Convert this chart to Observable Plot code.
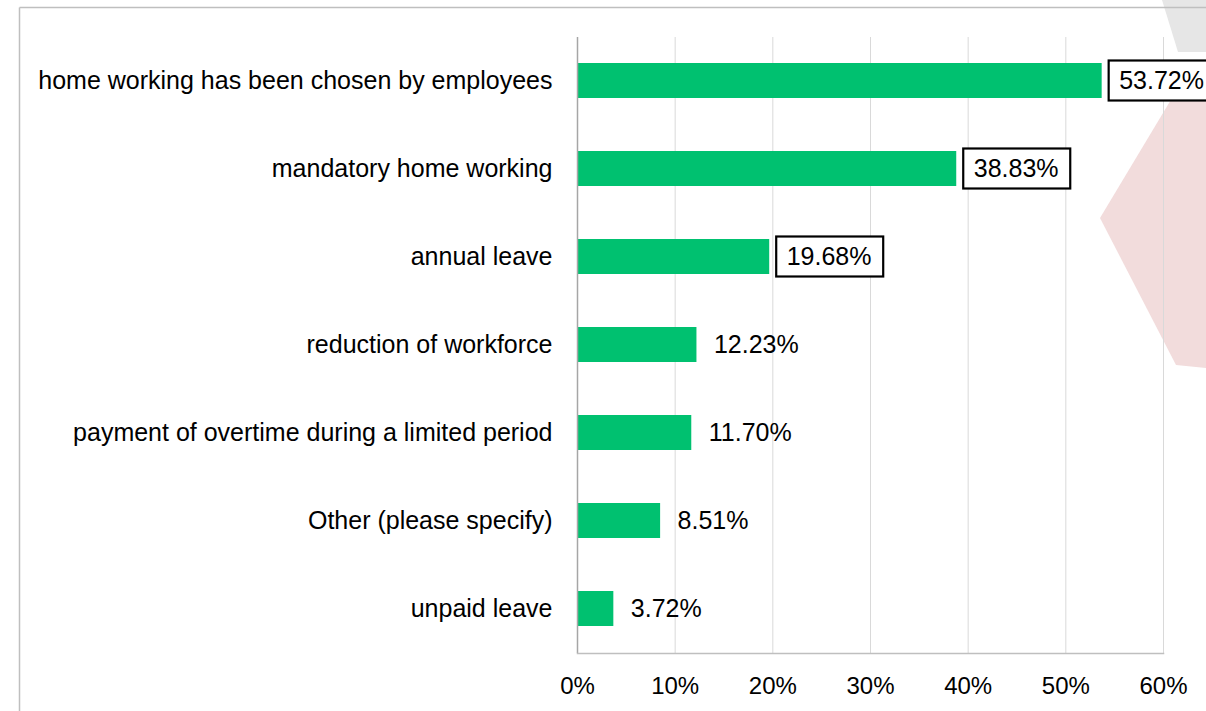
<!DOCTYPE html>
<html>
<head>
<meta charset="utf-8">
<script src="https://cdn.jsdelivr.net/npm/d3@7"></script>
<script src="https://cdn.jsdelivr.net/npm/@observablehq/plot@0.6"></script>
<style>
  html, body { margin: 0; padding: 0; background: #ffffff; }
  #wrap { position: relative; width: 1206px; height: 711px; overflow: hidden; }
  #bg, #chart { position: absolute; left: 0; top: 0; }
  #chart svg { background: transparent !important; }
</style>
</head>
<body>
<div id="wrap">
  <svg id="bg" width="1206" height="711">
    <polygon points="1162,0 1178,52 1206,52 1206,0" fill="#e6e6e6"/>
    <polygon points="1100,218 1172,98 1206,98 1206,368 1176,365" fill="#f2dcdc"/>
    <line x1="19.5" y1="7.5" x2="1206" y2="7.5" stroke="#bfbfbf" stroke-width="1.5"/>
    <line x1="19.5" y1="7.5" x2="19.5" y2="711" stroke="#bfbfbf" stroke-width="1.5"/>
  </svg>
  <div id="chart"></div>
</div>
<script>
const categories = [
  "home working has been chosen by employees",
  "mandatory home working",
  "annual leave",
  "reduction of workforce",
  "payment of overtime during a limited period",
  "Other (please specify)",
  "unpaid leave"
];
const values = [53.72, 38.83, 19.68, 12.23, 11.70, 8.51, 3.72];
const boxed = [true, true, true, false, false, false, false];
const xTicks = [0, 10, 20, 30, 40, 50, 60];

const data = categories.map((c, i) => ({category: c, value: values[i], boxed: boxed[i]}));
const fmt = v => v.toFixed(2) + "%";

const chart = Plot.plot({
  width: 1206,
  height: 711,
  marginLeft: 577,
  marginRight: 43,
  marginTop: 37,
  marginBottom: 58,
  style: {fontFamily: "'Liberation Sans', Arial, sans-serif", fontSize: "24px", color: "#000", background: "transparent"},
  x: {domain: [0, 60], ticks: xTicks, tickFormat: d => d + "%", label: null},
  y: {domain: categories, paddingInner: 0.6, paddingOuter: 0.3, label: null},
  marks: [
    Plot.gridX(xTicks, {stroke: "#d9d9d9", strokeOpacity: 1, strokeWidth: 1}),
    Plot.barX(data, {x: "value", y: "category", fill: "#00c170"}),
    Plot.ruleX([0], {stroke: "#a6a6a6", strokeWidth: 1.5}),
    Plot.frame({anchor: "bottom", stroke: "#bfbfbf", strokeWidth: 1.5}),
    Plot.barX(data.filter(d => d.boxed), {
      x1: "value", x2: "value", y: "category",
      insetLeft: 7, insetRight: -114, insetTop: -2.5, insetBottom: -2.5,
      fill: "white", stroke: "black", strokeWidth: 2.2
    }),
    Plot.text(data, {
      x: "value", y: "category", text: d => fmt(d.value),
      textAnchor: "start", dx: 17, fill: "#000", fontSize: 25
    }),
    Plot.axisX(xTicks, {
      tickSize: 0, tickPadding: 23, tickFormat: d => d + "%",
      fontSize: 24, fontFamily: "'Liberation Sans Narrow', 'Liberation Sans', sans-serif", label: null
    }),
    Plot.axisY({tickSize: 0, tickPadding: 25, fontSize: 25, label: null})
  ]
});
document.getElementById("chart").appendChild(chart);
</script>
</body>
</html>
